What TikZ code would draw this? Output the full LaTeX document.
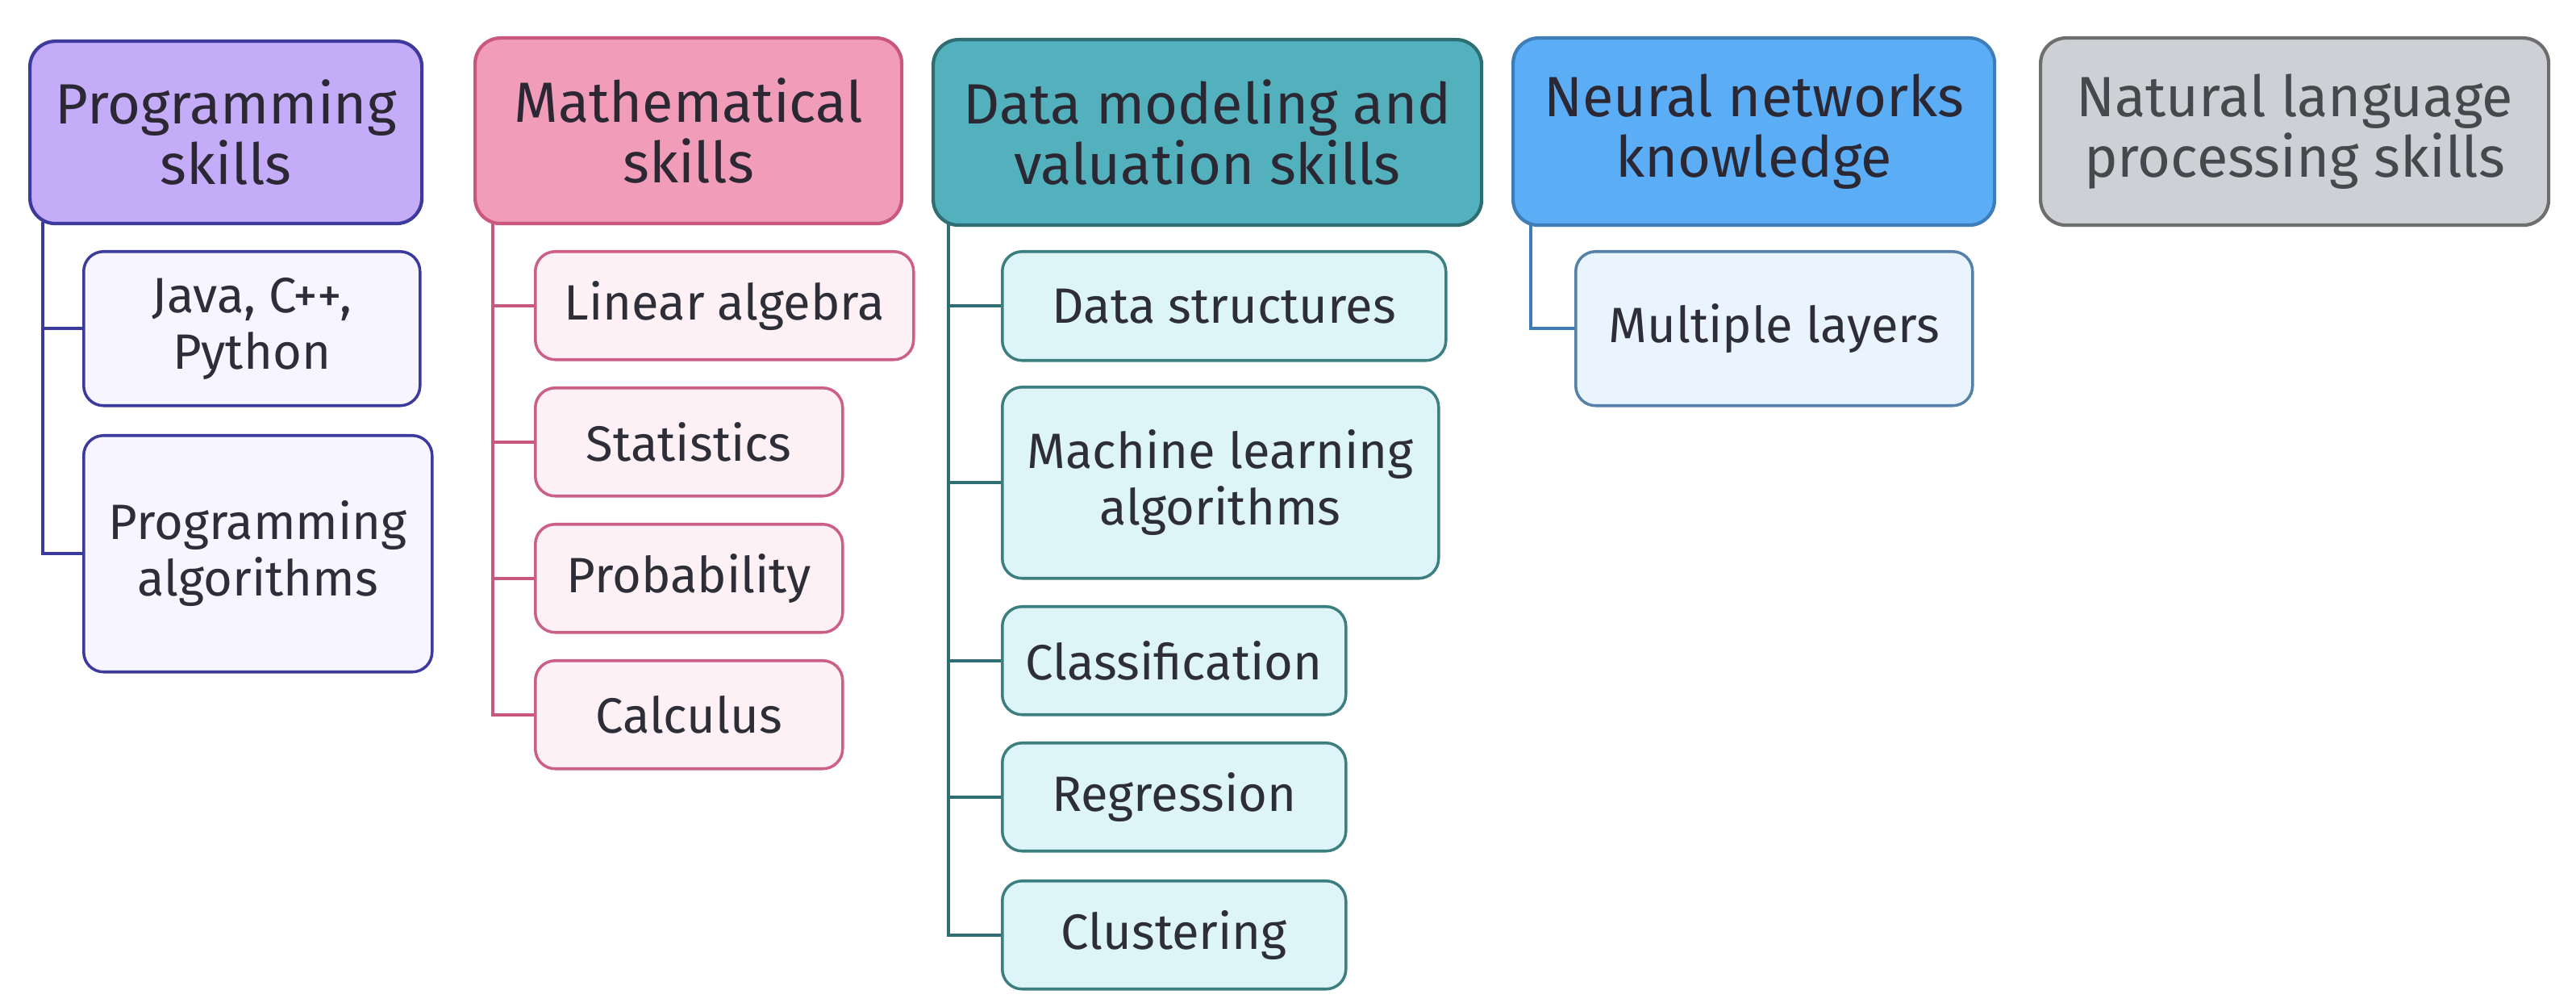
\documentclass[tikz,border=0pt]{standalone}
\usepackage{fontspec}
\setmainfont{Fira Sans}
\usetikzlibrary{positioning}
\definecolor{progfill}{HTML}{C4ACF8}
\definecolor{progline}{HTML}{3C3A9C}
\definecolor{progleaf}{HTML}{F7F5FF}
\definecolor{progedge}{HTML}{3C3A9C}
\definecolor{mathfill}{HTML}{F19DBA}
\definecolor{mathline}{HTML}{C9577F}
\definecolor{mathleaf}{HTML}{FDF1F6}
\definecolor{mathedge}{HTML}{CC5F88}
\definecolor{datafill}{HTML}{52B1BD}
\definecolor{dataline}{HTML}{2F6F73}
\definecolor{dataleaf}{HTML}{DDF5F8}
\definecolor{dataedge}{HTML}{3D7E80}
\definecolor{neurfill}{HTML}{5BAEF6}
\definecolor{neurline}{HTML}{3F7DB8}
\definecolor{neurleaf}{HTML}{E9F4FE}
\definecolor{neuredge}{HTML}{5580A8}
\definecolor{nlpfill}{HTML}{CDD0D4}
\definecolor{nlpline}{HTML}{6E6E6E}
\definecolor{nlptxt}{HTML}{46484C}
\definecolor{headtxt}{HTML}{2B2733}
\definecolor{leaftxt}{HTML}{2E2E38}
\newcommand{\headfont}{\fontsize{20}{21.5}\selectfont}
\newcommand{\leaffont}{\fontsize{17.5}{20}\selectfont}
\tikzset{
  head/.style={draw=#1line, line width=1.2pt, rounded corners=9pt, fill=#1fill,
               align=center, anchor=north west, inner sep=0pt,
               font=\headfont, text=headtxt},
  leaf/.style={draw=#1edge, line width=1pt, rounded corners=7pt, fill=#1leaf,
               align=center, anchor=north west, inner sep=0pt,
               font=\leaffont, text=leaftxt},
  branch/.style={draw=#1line, line width=1pt},
}

\begin{document}
\begin{tikzpicture}
  \useasboundingbox[fill=white] (0,0) rectangle (31.94,-12.48);
  % headers
  \node[head=prog, minimum width=4.86cm, minimum height=2.26cm] (prog) at (0.35,-0.49) {Programming\\skills};
  \node[head=math, minimum width=5.29cm, minimum height=2.30cm] (math) at (5.87,-0.45) {Mathematical\\skills};
  \node[head=data, minimum width=6.80cm, minimum height=2.30cm] (data) at (11.55,-0.47) {Data modeling and\\valuation skills};
  \node[head=neur, minimum width=5.97cm, minimum height=2.32cm] (neur) at (18.74,-0.45) {Neural networks\\knowledge};
  \node[head=nlp, minimum width=6.30cm, minimum height=2.32cm, text=nlptxt] (nlp) at (25.28,-0.45) {Natural language\\processing skills};
  \coordinate (progT) at (0.53,-2.75);
  \coordinate (mathT) at (6.11,-2.75);
  \coordinate (dataT) at (11.76,-2.77);
  \coordinate (neurT) at (18.98,-2.77);
  % programming
  \node[leaf=prog, minimum width=4.17cm, minimum height=1.91cm] (java) at (1.02,-3.10) {Java, C++,\\Python};
  \node[leaf=prog, minimum width=4.32cm, minimum height=2.93cm] (progalg) at (1.02,-5.38) {Programming\\algorithms};
  \foreach \n in {java,progalg}
    \draw[branch=prog] (progT) |- (\n.west);
  % mathematics
  \foreach \n/\lbl/\y/\w in {linalg/{Linear algebra}/3.10/4.69, stats/Statistics/4.79/3.81,
                             prob/Probability/6.48/3.81, calc/Calculus/8.17/3.81}{
    \node[leaf=math, minimum width=\w cm, minimum height=1.34cm] (\n) at (6.62,-\y) {\lbl};
    \draw[branch=math] (mathT) |- (\n.west);}
  % data modeling
  \node[leaf=data, minimum width=5.50cm, minimum height=1.35cm] (dstruct) at (12.41,-3.10) {Data structures};
  \node[leaf=data, minimum width=5.41cm, minimum height=2.37cm] (mlalg) at (12.41,-4.78) {Machine learning\\algorithms};
  \foreach \n/\lbl/\y in {classif/Classification/7.50, regr/Regression/9.19, clust/Clustering/10.90}
    \node[leaf=data, minimum width=4.26cm, minimum height=1.34cm] (\n) at (12.41,-\y) {\lbl};
  \foreach \n in {dstruct,mlalg,classif,regr,clust}
    \draw[branch=data] (dataT) |- (\n.west);
  % neural networks
  \node[leaf=neur, minimum width=4.92cm, minimum height=1.91cm] (layers) at (19.52,-3.10) {Multiple layers};
  \draw[branch=neur] (neurT) |- (layers.west);
\end{tikzpicture}
\end{document}
